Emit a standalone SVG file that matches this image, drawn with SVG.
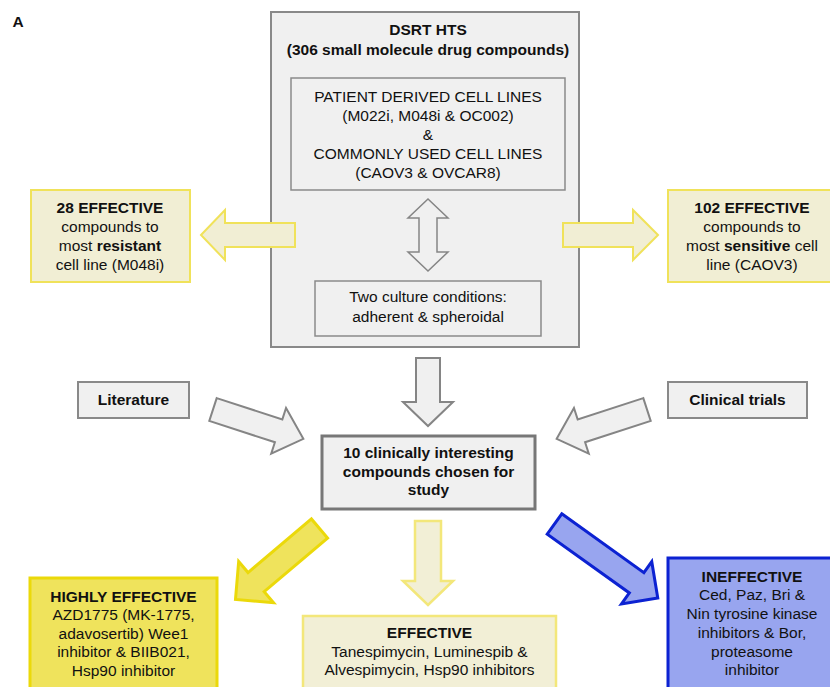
<svg xmlns="http://www.w3.org/2000/svg" width="830" height="687" viewBox="0 0 830 687">
<style>
text{font-family:"Liberation Sans",Arial,sans-serif;font-size:15.5px;fill:#111;text-anchor:middle}
.b{font-weight:bold}
.gbox{fill:#f0f0f0;stroke:#898989;stroke-width:2}
.gin{fill:#f0f0f0;stroke:#8a8a8a;stroke-width:1.5}
.garrow{fill:#f0f0f0;stroke:#858585;stroke-width:2;stroke-linejoin:miter}
.ybox{fill:#f1eed4;stroke:#f0e25a;stroke-width:2}
.yarrow{fill:#f1eed4;stroke:#f0e25a;stroke-width:2}
.earrow{fill:#f2efd6;stroke:#f3e77a;stroke-width:2.5}
.hbox{fill:#efe35c;stroke:#ebd90a;stroke-width:3}
.blue{fill:#98a5ef;stroke:#0c22d2;stroke-width:3}
</style>
<rect width="830" height="687" fill="#ffffff"/>
<text x="18" y="27" class="b">A</text>

<g id="dsrt">
  <rect x="271" y="12" width="308" height="335" class="gbox"/>
  <text x="428" y="35" class="b">DSRT HTS</text>
  <text x="428" y="55" class="b">(306 small molecule drug compounds)</text>
</g>
<g id="cell-lines">
  <rect x="291" y="78" width="274" height="112" class="gin"/>
  <text x="428" y="102">PATIENT DERIVED CELL LINES</text>
  <text x="428" y="121">(M022i, M048i &amp; OC002)</text>
  <text x="428" y="140">&amp;</text>
  <text x="428" y="159">COMMONLY USED CELL LINES</text>
  <text x="428" y="178">(CAOV3 &amp; OVCAR8)</text>
</g>
<g id="culture">
  <rect x="315" y="281" width="226" height="55" class="gin"/>
  <text x="428" y="302">Two culture conditions:</text>
  <text x="428" y="322">adherent &amp; spheroidal</text>
</g>

<g id="connectors">
  <polygon class="garrow" style="stroke-width:1.5" points="428,199 448,218 437,218 437,252 448,252 428,271 408,252 419,252 419,218 408,218"/>
  <polygon class="yarrow" points="201,235 225,210 225,223 295,223 295,247 225,247 225,260"/>
  <polygon class="yarrow" points="658,235 633,210 633,223 563,223 563,247 633,247 633,260"/>
  <polygon class="garrow" points="416,358 440,358 440,402 453,402 428,426 403,402 416,402"/>
  <polygon class="garrow" transform="translate(213,409.5) rotate(18)" points="0,-12 69,-12 69,-24 95,0 69,24 69,12 0,12"/>
  <polygon class="garrow" transform="translate(647,409.5) scale(-1,1) rotate(18)" points="0,-12 69,-12 69,-24 95,0 69,24 69,12 0,12"/>
  <polygon class="hbox" transform="translate(319.5,528.5) rotate(139.8)" points="0,-12.5 83,-12.5 83,-27 110,0 83,27 83,12.5 0,12.5"/>
  <polygon class="earrow" points="415,521 441,521 441,581 453,581 428,605 403,581 415,581"/>
  <polygon class="blue" transform="translate(554.5,524) rotate(35.6)" points="0,-12.5 101,-12.5 101,-26 127,0 101,26 101,12.5 0,12.5"/>
</g>

<g id="resistant">
  <rect x="31" y="190" width="159" height="92" class="ybox"/>
  <text x="110" y="213" class="b">28 EFFECTIVE</text>
  <text x="110" y="232">compounds to</text>
  <text x="110" y="251">most <tspan class="b">resistant</tspan></text>
  <text x="110" y="270">cell line (M048i)</text>
</g>
<g id="sensitive">
  <rect x="668" y="190" width="170" height="92" class="ybox"/>
  <text x="752" y="213" class="b">102 EFFECTIVE</text>
  <text x="752" y="232">compounds to</text>
  <text x="752" y="251">most <tspan class="b">sensitive</tspan> cell</text>
  <text x="752" y="270">line (CAOV3)</text>
</g>

<g id="literature">
  <rect x="78" y="382" width="111" height="36" class="gbox"/>
  <text x="133.5" y="405" class="b">Literature</text>
</g>
<g id="clinical-trials">
  <rect x="668" y="382" width="139" height="36" class="gbox"/>
  <text x="737.5" y="405" class="b">Clinical trials</text>
</g>

<g id="chosen">
  <rect x="322" y="436" width="213" height="73" fill="#f0f0f0" stroke="#777" stroke-width="3"/>
  <text x="428.5" y="458" class="b">10 clinically interesting</text>
  <text x="428.5" y="477" class="b">compounds chosen for</text>
  <text x="428.5" y="495" class="b">study</text>
</g>

<g id="highly-effective">
  <rect x="30" y="578" width="187" height="125" class="hbox"/>
  <text x="123.5" y="601.5" class="b">HIGHLY EFFECTIVE</text>
  <text x="123.5" y="620">AZD1775 (MK-1775,</text>
  <text x="123.5" y="638.5">adavosertib) Wee1</text>
  <text x="123.5" y="657">inhibitor &amp; BIIB021,</text>
  <text x="123.5" y="675.5">Hsp90 inhibitor</text>
</g>
<g id="effective">
  <rect x="303" y="616" width="253" height="90" fill="#f2efd6" stroke="#f3e77a" stroke-width="2.5"/>
  <text x="429.5" y="638" class="b">EFFECTIVE</text>
  <text x="429.5" y="657">Tanespimycin, Luminespib &amp;</text>
  <text x="429.5" y="675">Alvespimycin, Hsp90 inhibitors</text>
</g>
<g id="ineffective">
  <rect x="668" y="558" width="170" height="145" class="blue"/>
  <text x="752" y="582" class="b">INEFFECTIVE</text>
  <text x="752" y="600">Ced, Paz, Bri &amp;</text>
  <text x="752" y="619">Nin tyrosine kinase</text>
  <text x="752" y="638">inhibitors &amp; Bor,</text>
  <text x="752" y="657">proteasome</text>
  <text x="752" y="675">inhibitor</text>
</g>
</svg>
